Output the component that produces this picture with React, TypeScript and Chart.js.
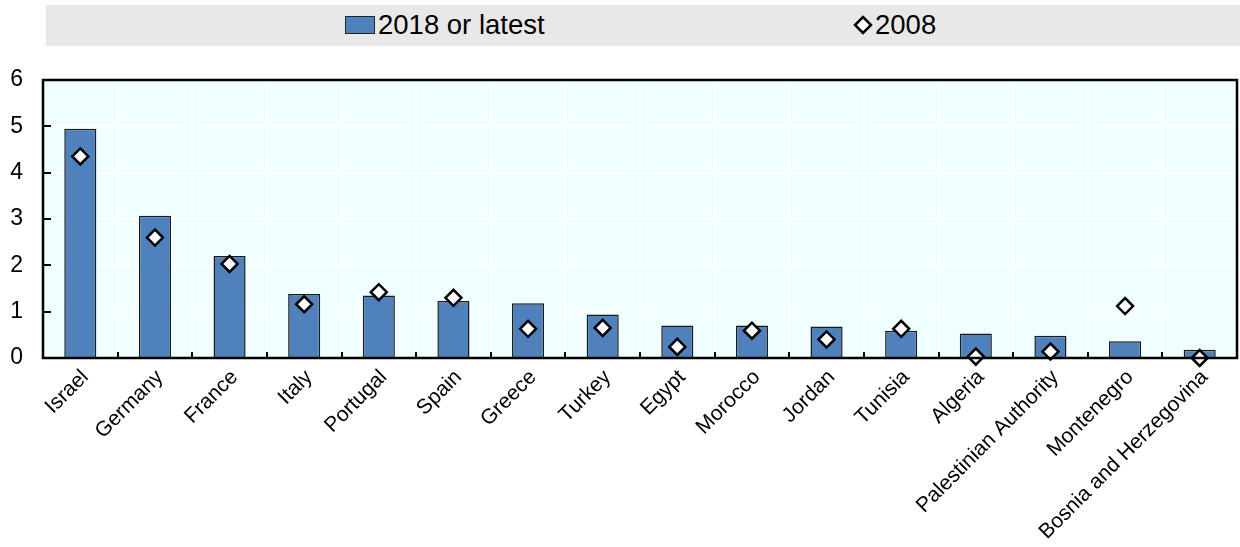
import React, { useEffect, useRef } from "react";
import { Chart, registerables } from "chart.js";

Chart.register(...registerables);

const categories = [
  "Israel", "Germany", "France", "Italy", "Portugal", "Spain", "Greece", "Turkey",
  "Egypt", "Morocco", "Jordan", "Tunisia", "Algeria", "Palestinian Authority",
  "Montenegro", "Bosnia and Herzegovina",
];
const latestValues = [4.95, 3.07, 2.2, 1.38, 1.35, 1.23, 1.18, 0.94, 0.7, 0.7, 0.68, 0.59, 0.53, 0.48, 0.36, 0.18];
const values2008 = [4.35, 2.6, 2.03, 1.16, 1.42, 1.3, 0.63, 0.65, 0.24, 0.59, 0.4, 0.63, 0.03, 0.14, 1.12, 0.0];
const yTicks = [0, 1, 2, 3, 4, 5, 6];
const seriesNames = ["2018 or latest", "2008"];

const FONT = "'Liberation Sans', Arial, sans-serif";
const BAR_COLOR = "#4F81BD";

const framePlugin = {
  id: "frame",
  beforeDraw(chart: any) {
    const { ctx, chartArea } = chart;
    ctx.save();
    ctx.fillStyle = "#F0FFFF";
    ctx.fillRect(chartArea.left, chartArea.top, chartArea.right - chartArea.left, chartArea.bottom - chartArea.top);
    ctx.restore();
  },
  afterDatasetsDraw(chart: any) {
    const { ctx, chartArea, scales } = chart;
    const x = scales.x;
    const y = scales.y;
    ctx.save();
    ctx.strokeStyle = "#000";
    ctx.lineWidth = 2;
    for (let i = 1; i < categories.length; i++) {
      const px = Math.round((x.getPixelForValue(i - 1) + x.getPixelForValue(i)) / 2);
      ctx.beginPath();
      ctx.moveTo(px, chartArea.bottom);
      ctx.lineTo(px, chartArea.bottom - 6);
      ctx.stroke();
    }
    yTicks.forEach((t) => {
      const py = Math.round(y.getPixelForValue(t));
      ctx.beginPath();
      ctx.moveTo(chartArea.left, py);
      ctx.lineTo(chartArea.left + 8, py);
      ctx.stroke();
    });
    ctx.lineWidth = 2.5;
    ctx.strokeRect(chartArea.left, chartArea.top, chartArea.right - chartArea.left, chartArea.bottom - chartArea.top);
    ctx.restore();
  },
};

export default function App() {
  const canvasRef = useRef<HTMLCanvasElement | null>(null);

  useEffect(() => {
    if (!canvasRef.current) return;
    const chart = new Chart(canvasRef.current, {
      type: "bar",
      data: {
        labels: categories,
        datasets: [
          {
            type: "line",
            label: seriesNames[1],
            data: values2008,
            showLine: false,
            pointStyle: "rectRot",
            pointRadius: 8,
            pointBackgroundColor: "#FFFFFF",
            pointBorderColor: "#000000",
            pointBorderWidth: 2.5,
            clip: false,
            order: 0,
          } as any,
          {
            type: "bar",
            label: seriesNames[0],
            data: latestValues,
            backgroundColor: BAR_COLOR,
            borderColor: "#1A1A1A",
            borderWidth: 1.5,
            barPercentage: 0.43,
            categoryPercentage: 1,
            order: 1,
          },
        ],
      },
      options: {
        animation: false,
        responsive: false,
        maintainAspectRatio: false,
        layout: { autoPadding: false, padding: { left: 0, right: 3, top: 80, bottom: 0 } },
        plugins: {
          legend: { display: false },
          tooltip: { enabled: false },
        },
        scales: {
          x: {
            grid: { offset: true, color: "#FFFFFF", lineWidth: 2, drawTicks: false },
            border: { display: false },
            ticks: {
              autoSkip: false,
              minRotation: 45,
              maxRotation: 45,
              padding: 7,
              labelOffset: 5,
              color: "#000",
              font: { family: FONT, size: 21 },
            },
            afterFit: (scale: any) => {
              scale.height = 189;
              scale.paddingLeft = 0;
              scale.paddingRight = 0;
            },
          },
          y: {
            min: 0,
            max: 6,
            grid: { color: "#FFFFFF", lineWidth: 2, drawTicks: false },
            border: { display: false },
            ticks: {
              stepSize: 1,
              padding: 20,
              color: "#000",
              font: { family: FONT, size: 23 },
            },
            afterFit: (scale: any) => {
              scale.width = 43;
              scale.paddingTop = 0;
              scale.paddingBottom = 0;
            },
          },
        },
      } as any,
      plugins: [framePlugin],
    });
    return () => chart.destroy();
  }, []);

  return (
    <div style={{ position: "absolute", left: 0, top: 0, width: 1240, height: 547, background: "#fff", fontFamily: FONT }}>
      <div
        style={{
          position: "absolute",
          left: 46,
          top: 5,
          width: 1194,
          height: 41,
          background: "#E8E8E8",
        }}
      />
      <div
        style={{
          position: "absolute",
          left: 345,
          top: 16,
          width: 28,
          height: 16,
          background: BAR_COLOR,
          border: "1.5px solid #222",
        }}
      />
      <div style={{ position: "absolute", left: 378, top: 8, fontSize: 27.5, lineHeight: "34px", color: "#000" }}>
        {seriesNames[0]}
      </div>
      <svg style={{ position: "absolute", left: 853, top: 15 }} width={20} height={20}>
        <polygon points="10,2 18,10 10,18 2,10" fill="#fff" stroke="#000" strokeWidth={2.5} />
      </svg>
      <div style={{ position: "absolute", left: 875, top: 8, fontSize: 27.5, lineHeight: "34px", color: "#000" }}>
        {seriesNames[1]}
      </div>
      <canvas ref={canvasRef} width={1240} height={547} style={{ position: "absolute", left: 0, top: 0 }} />
    </div>
  );
}
